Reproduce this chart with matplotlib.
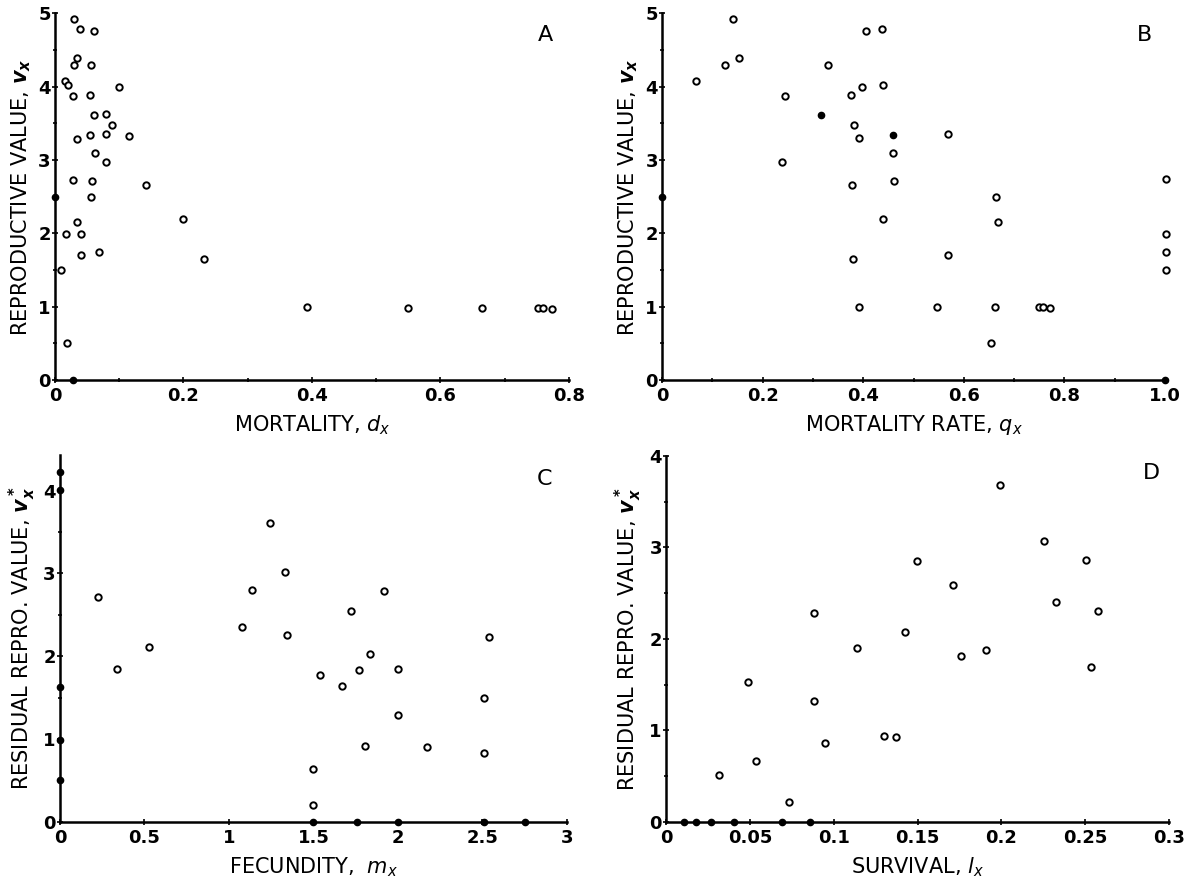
import matplotlib
matplotlib.use('Agg')
import matplotlib.pyplot as plt
from matplotlib.ticker import MultipleLocator, FixedLocator

plt.rcParams['font.family'] = ['DejaVu Sans']
plt.rcParams['mathtext.fontset'] = 'dejavusans'

# panel A: mortality d_x vs reproductive value v_x
a_x = [0.029, 0.039, 0.060, 0.034, 0.029, 0.056, 0.016, 0.021, 0.099, 0.028,
       0.054, 0.080, 0.060, 0.089, 0.054, 0.080, 0.116, 0.034, 0.063, 0.080,
       0.028, 0.058, 0.142, 0.056, 0.035, 0.200, 0.017, 0.040, 0.041, 0.069,
       0.232, 0.009, 0.019, 0.393, 0.549, 0.664, 0.752, 0.760, 0.774]
a_y = [4.92, 4.79, 4.76, 4.39, 4.30, 4.29, 4.08, 4.02, 3.99, 3.88,
       3.89, 3.63, 3.61, 3.48, 3.34, 3.35, 3.33, 3.29, 3.09, 2.97,
       2.73, 2.72, 2.66, 2.49, 2.16, 2.20, 1.99, 1.99, 1.71, 1.74,
       1.65, 1.50, 0.50, 0.99, 0.98, 0.98, 0.98, 0.98, 0.97]
a_dot_x = [0.0, 0.028]
a_dot_y = [2.49, 0.0]

# panel B: mortality rate q_x
b_x = [0.142, 0.067, 0.125, 0.153, 0.405, 0.438, 0.331, 0.397, 0.439, 0.245,
       0.375, 0.381, 0.568, 0.391, 0.460, 0.239, 0.378, 0.462, 0.663, 0.667,
       0.440, 0.380, 0.568, 0.391, 0.547, 0.662, 0.750, 0.758, 0.772, 0.655,
       1.002, 1.002, 1.002, 1.002]
b_y = [4.92, 4.08, 4.30, 4.39, 4.76, 4.79, 4.29, 3.99, 4.02, 3.88,
       3.89, 3.48, 3.35, 3.30, 3.09, 2.97, 2.66, 2.72, 2.49, 2.16,
       2.20, 1.65, 1.71, 1.00, 0.99, 1.00, 0.99, 0.99, 0.98, 0.50,
       2.74, 1.99, 1.74, 1.50]
b_dot_x = [0.316, 0.459, 0.0, 1.0]
b_dot_y = [3.62, 3.34, 2.49, 0.0]

# panel C: fecundity m_x vs residual reproductive value
c_x = [1.245, 1.330, 1.139, 1.918, 0.227, 1.720, 1.076, 1.341, 2.539, 0.529,
       1.832, 0.340, 2.001, 1.769, 1.537, 1.672, 2.507, 2.001, 1.803, 2.174,
       2.507, 1.499, 1.499]
c_y = [3.61, 3.02, 2.80, 2.79, 2.72, 2.54, 2.35, 2.25, 2.23, 2.11,
       2.03, 1.84, 1.85, 1.83, 1.77, 1.64, 1.50, 1.29, 0.91, 0.90,
       0.83, 0.64, 0.20]
c_dot_x = [0.0, 0.0, 0.0, 0.0, 0.0, 1.5, 1.755, 2.0, 2.507, 2.753]
c_dot_y = [4.23, 4.01, 1.63, 0.99, 0.50, 0.0, 0.0, 0.0, 0.0, 0.0]

# panel D: survival l_x vs residual reproductive value
d_x = [0.199, 0.2255, 0.2507, 0.1497, 0.1711, 0.2324, 0.2578, 0.0880, 0.1428, 0.1139,
       0.1908, 0.1762, 0.2536, 0.0491, 0.0880, 0.1300, 0.1371, 0.0946, 0.0535, 0.0316,
       0.0734]
d_y = [3.68, 3.07, 2.86, 2.85, 2.59, 2.40, 2.30, 2.28, 2.07, 1.90,
       1.88, 1.81, 1.69, 1.53, 1.32, 0.94, 0.93, 0.86, 0.66, 0.51,
       0.21]
d_dot_x = [0.0108, 0.0177, 0.027, 0.0407, 0.0692, 0.0856]
d_dot_y = [0.0, 0.0, 0.0, 0.0, 0.0, 0.0]

fig = plt.figure(figsize=(11.87, 8.77), dpi=100)

panels = [
    # rect, x, y, dots, xlim, ylim, xmajor, xminor, xlabels, ylabel, xlabel, letter, letterpos
    ([0.0463, 0.5667, 0.433, 0.418], a_x, a_y, a_dot_x, a_dot_y, (0, 0.8), (0, 5),
     [0, 0.2, 0.4, 0.6, 0.8], 0.1, ['0', '0.2', '0.4', '0.6', '0.8'],
     r'REPRODUCTIVE VALUE, $\mathbfit{v_x}$', r'MORTALITY, $\mathit{d_x}$', 'A', (0.955, 0.94)),
    ([0.5577, 0.5667, 0.4238, 0.418], b_x, b_y, b_dot_x, b_dot_y, (0, 1.0), (0, 5),
     [0, 0.2, 0.4, 0.6, 0.8, 1.0], 0.1, ['0', '0.2', '0.4', '0.6', '0.8', '1.0'],
     r'REPRODUCTIVE VALUE, $\mathbfit{v_x}$', r'MORTALITY RATE, $\mathit{q_x}$', 'B', (0.96, 0.94)),
    ([0.0505, 0.0631, 0.4271, 0.4181], c_x, c_y, c_dot_x, c_dot_y, (0, 3), (0, 4.43),
     [0, 0.5, 1, 1.5, 2, 2.5, 3], None, ['0', '0.5', '1', '1.5', '2', '2.5', '3'],
     r'RESIDUAL REPRO. VALUE, $\mathbfit{v_x^*}$', r'FECUNDITY,  $\mathit{m_x}$', 'C', (0.955, 0.935)),
    ([0.5611, 0.0631, 0.4238, 0.417], d_x, d_y, d_dot_x, d_dot_y, (0, 0.3), (0, 4),
     [0, 0.05, 0.1, 0.15, 0.2, 0.25, 0.3], None, ['0', '0.05', '0.1', '0.15', '0.2', '0.25', '0.3'],
     r'RESIDUAL REPRO. VALUE, $\mathbfit{v_x^*}$', r'SURVIVAL, $\mathit{l_x}$', 'D', (0.964, 0.953)),
]

for (rect, xs, ys, dx, dy, xlim, ylim, xmaj, xmin, xlabs, ylab, xlab, letter, lpos) in panels:
    ax = fig.add_axes(rect)
    ax.plot(xs, ys, 'o', ms=4.6, mfc='white', mec='black', mew=1.4, clip_on=False)
    ax.plot(dx, dy, 'o', ms=4.5, mfc='black', mec='black', clip_on=False, zorder=4)
    ax.set_xlim(*xlim)
    ax.set_ylim(*ylim)
    for s in ['top', 'right']:
        ax.spines[s].set_visible(False)
    for s in ['left', 'bottom']:
        ax.spines[s].set_linewidth(1.8)
    ax.xaxis.set_major_locator(FixedLocator(xmaj))
    ax.set_xticklabels(xlabs)
    if xmin:
        ax.xaxis.set_minor_locator(MultipleLocator(xmin))
    ax.yaxis.set_major_locator(MultipleLocator(1))
    ax.yaxis.set_minor_locator(MultipleLocator(0.5))
    ax.tick_params(which='both', direction='inout', length=4, width=1.2, labelsize=13)
    ax.tick_params(which='minor', length=3)
    ax.tick_params(axis='y', pad=1)
    ax.tick_params(axis='x', pad=3)
    for t in ax.get_xticklabels() + ax.get_yticklabels():
        t.set_fontweight('bold')
    ax.set_ylabel(ylab, fontsize=15, labelpad=4)
    ax.set_xlabel(xlab, fontsize=15, labelpad=6)
    ax.text(lpos[0], lpos[1], letter, transform=ax.transAxes, fontsize=16,
            ha='center', va='center')

fig.savefig('out.png', dpi=100)
